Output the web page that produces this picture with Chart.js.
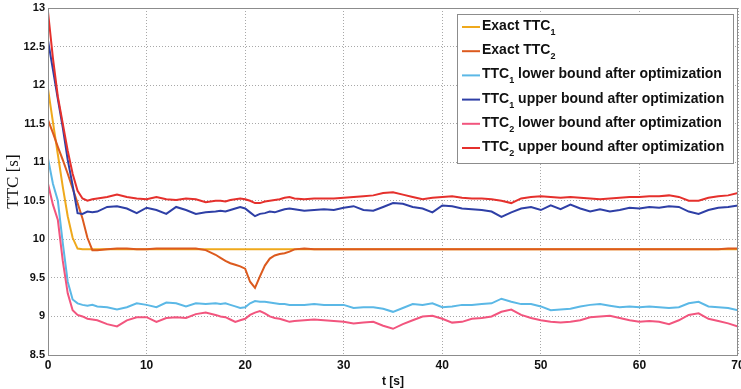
<!DOCTYPE html>
<html>
<head>
<meta charset="utf-8">
<script src="https://cdn.jsdelivr.net/npm/chart.js@4.4.1/dist/chart.umd.min.js"></script>
<style>
  body { margin: 0; background: #fff; }
  #wrap { width: 741px; height: 389px; }
</style>
</head>
<body>
<div id="wrap"><canvas id="grafico" width="741" height="389"></canvas></div>
<script>
// time axis [s]
const t = [0, 0.5, 1, 1.5, 2, 2.5, 3, 3.5, 4, 4.5, 5,
  6, 7, 8, 9, 10, 11, 12, 13, 14, 15, 16,
  17, 17.5, 18, 18.5, 19, 19.5, 20, 20.5, 21, 21.5, 22, 22.5, 23, 23.5, 24, 24.5, 25,
  26, 27, 28, 29, 30, 31, 32, 33, 34, 35, 36, 37, 38, 39, 40, 41, 42, 43, 44, 45,
  46, 47, 48, 49, 50, 51, 52, 53, 54, 55, 56, 57, 58, 59, 60, 61, 62, 63, 64, 65,
  66, 67, 68, 69, 70];

const exactTTC1 = [11.95, 11.52, 11.1, 10.68, 10.3, 10.02, 9.88, 9.87, 9.87, 9.87, 9.87,
  9.87, 9.87, 9.87, 9.87, 9.87, 9.87, 9.87, 9.87, 9.87, 9.87, 9.87,
  9.87, 9.87, 9.87, 9.87, 9.87, 9.87, 9.87, 9.87, 9.87, 9.87, 9.87, 9.87, 9.87, 9.87, 9.87, 9.87, 9.87,
  9.87, 9.87, 9.87, 9.87, 9.87, 9.87, 9.87, 9.87, 9.87, 9.87, 9.87, 9.87, 9.87, 9.87, 9.87, 9.87, 9.87, 9.87, 9.87, 9.87,
  9.87, 9.87, 9.87, 9.87, 9.87, 9.87, 9.87, 9.87, 9.87, 9.87, 9.87, 9.87, 9.87, 9.87, 9.87, 9.87, 9.87, 9.87, 9.87, 9.87,
  9.87, 9.87, 9.87, 9.87, 9.87];

const exactTTC2 = [11.55, 11.38, 11.2, 11.03, 10.85, 10.66, 10.47, 10.27, 10.02, 9.86, 9.86,
  9.87, 9.88, 9.88, 9.87, 9.87, 9.88, 9.88, 9.88, 9.88, 9.88, 9.86,
  9.8, 9.76, 9.72, 9.69, 9.67, 9.65, 9.62, 9.45, 9.37, 9.52, 9.66, 9.75, 9.79, 9.81, 9.82, 9.84, 9.87,
  9.88, 9.87, 9.87, 9.87, 9.87, 9.87, 9.87, 9.87, 9.87, 9.87, 9.87, 9.87, 9.87, 9.87, 9.87, 9.87, 9.87, 9.87, 9.87, 9.87,
  9.87, 9.87, 9.87, 9.87, 9.87, 9.87, 9.87, 9.87, 9.87, 9.87, 9.87, 9.87, 9.87, 9.87, 9.87, 9.87, 9.87, 9.87, 9.87, 9.87,
  9.87, 9.87, 9.87, 9.88, 9.88];

const ttc1Lower = [11.05, 10.72, 10.5, 9.95, 9.45, 9.22, 9.17, 9.15, 9.14, 9.15, 9.13,
  9.12, 9.09, 9.12, 9.17, 9.15, 9.12, 9.18, 9.17, 9.13, 9.17, 9.16,
  9.17, 9.16, 9.17, 9.15, 9.13, 9.11, 9.12, 9.17, 9.2, 9.19, 9.19, 9.18, 9.17, 9.16, 9.16, 9.15, 9.15,
  9.15, 9.16, 9.15, 9.15, 9.15, 9.11, 9.12, 9.12, 9.1, 9.06, 9.11, 9.16, 9.15, 9.17, 9.12, 9.13, 9.15, 9.15, 9.16, 9.17,
  9.23, 9.19, 9.16, 9.16, 9.13, 9.08, 9.09, 9.1, 9.13, 9.15, 9.16, 9.14, 9.12, 9.13, 9.12, 9.13, 9.12, 9.11, 9.12, 9.17,
  9.19, 9.13, 9.12, 9.11, 9.08];

const ttc1Upper = [12.58, 12.2, 11.82, 11.45, 11.03, 10.7, 10.34, 10.33, 10.36, 10.35, 10.36,
  10.42, 10.43, 10.4, 10.34, 10.41, 10.38, 10.33, 10.42, 10.38, 10.33, 10.35,
  10.36, 10.37, 10.36, 10.38, 10.4, 10.42, 10.4, 10.35, 10.3, 10.33, 10.34, 10.36, 10.35, 10.37, 10.39, 10.4, 10.39,
  10.37, 10.38, 10.39, 10.38, 10.41, 10.43, 10.38, 10.37, 10.42, 10.47, 10.46, 10.42, 10.4, 10.35, 10.44, 10.43, 10.4, 10.39, 10.38, 10.36,
  10.29, 10.35, 10.4, 10.42, 10.38, 10.44, 10.39, 10.45, 10.4, 10.36, 10.39, 10.36, 10.38, 10.41, 10.4, 10.42, 10.41, 10.43, 10.42, 10.36,
  10.33, 10.38, 10.41, 10.42, 10.44];

const ttc2Lower = [10.72, 10.45, 10.25, 9.72, 9.3, 9.08, 9.02, 9.0, 8.97, 8.96, 8.95,
  8.9, 8.87, 8.95, 8.99, 8.99, 8.93, 8.98, 8.99, 8.98, 9.03, 9.05,
  9.02, 9.0, 8.99, 8.96, 8.93, 8.95, 8.97, 9.02, 9.05, 9.07, 9.04, 9.0, 8.98, 8.97, 8.95, 8.93, 8.94,
  8.95, 8.96, 8.95, 8.94, 8.93, 8.91, 8.92, 8.93, 8.88, 8.84, 8.9, 8.95, 9.0, 9.01, 8.97, 8.92, 8.93, 8.97, 8.98, 9.0,
  9.06, 9.09, 9.02, 8.98, 8.95, 8.93, 8.92, 8.93, 8.95, 8.99, 9.0, 9.01, 8.98, 8.95, 8.93, 8.94, 8.93, 8.9, 8.95, 9.02,
  9.04, 8.97, 8.94, 8.91, 8.87];

const ttc2Upper = [12.95, 12.35, 11.85, 11.5, 11.15, 10.85, 10.63, 10.53, 10.5, 10.52, 10.53,
  10.55, 10.58, 10.55, 10.53, 10.52, 10.55, 10.52, 10.51, 10.53, 10.52, 10.48,
  10.5, 10.5, 10.49, 10.51, 10.52, 10.53, 10.52, 10.5, 10.47, 10.47, 10.49, 10.5, 10.51, 10.52, 10.54, 10.55, 10.53,
  10.52, 10.53, 10.53, 10.53, 10.54, 10.55, 10.56, 10.57, 10.6, 10.61, 10.58, 10.55, 10.52, 10.54, 10.55, 10.56, 10.54, 10.53, 10.53, 10.52,
  10.5, 10.47, 10.53, 10.55, 10.56, 10.55, 10.54, 10.55, 10.54, 10.53, 10.52, 10.53, 10.54, 10.55, 10.55, 10.56, 10.56, 10.57, 10.55, 10.5,
  10.5, 10.54, 10.56, 10.57, 10.6];

// legend names, "_n" is drawn as subscript
const names = ['Exact TTC_1', 'Exact TTC_2',
  'TTC_1 lower bound after optimization', 'TTC_1 upper bound after optimization',
  'TTC_2 lower bound after optimization', 'TTC_2 upper bound after optimization'];
const colors = ['#EFA91C', '#DC5A1E', '#5BB8E6', '#2E3FA6', '#F2557E', '#E5302C'];
const series = [exactTTC1, exactTTC2, ttc1Lower, ttc1Upper, ttc2Lower, ttc2Upper];

const boxFrame = {
  id: 'boxFrame',
  afterDatasetsDraw(chart) {
    const { ctx, chartArea: a } = chart;
    ctx.save();
    ctx.strokeStyle = '#8c8c8c';
    ctx.lineWidth = 1;
    ctx.strokeRect(a.left + 0.5, a.top + 0.5, a.right - a.left - 1, a.bottom - a.top);
    ctx.restore();
  }
};

const boxLegend = {
  id: 'boxLegend',
  afterDraw(chart) {
    const ctx = chart.ctx;
    ctx.save();
    ctx.fillStyle = '#fff';
    ctx.fillRect(457, 14, 276, 149);
    ctx.strokeStyle = '#8c8c8c';
    ctx.lineWidth = 1;
    ctx.strokeRect(457.5, 14.5, 276, 149);
    names.forEach((name, i) => {
      const base = 30 + i * 24.2;
      ctx.strokeStyle = colors[i];
      ctx.lineWidth = 2;
      ctx.beginPath();
      ctx.moveTo(462, base - 3);
      ctx.lineTo(480, base - 3);
      ctx.stroke();
      ctx.fillStyle = '#111';
      ctx.textBaseline = 'alphabetic';
      let x = 482;
      name.split(/(_\d)/).forEach(part => {
        if (!part) return;
        if (part[0] === '_') {
          ctx.font = 'bold 9px "Liberation Sans", Arial, sans-serif';
          ctx.fillText(part.slice(1), x, base + 5);
          x += ctx.measureText(part.slice(1)).width;
        } else {
          ctx.font = 'bold 14px "Liberation Sans", Arial, sans-serif';
          ctx.fillText(part, x, base);
          x += ctx.measureText(part).width;
        }
      });
    });
    ctx.restore();
  }
};

const ctx = document.getElementById('grafico').getContext('2d');

new Chart(ctx, {
  type: 'line',
  data: {
    datasets: series.map((vals, i) => ({
      label: names[i].replace('_1', '\u2081').replace('_2', '\u2082'),
      data: t.map((x, k) => ({ x: x, y: vals[k] })),
      borderColor: colors[i],
      backgroundColor: colors[i],
      borderWidth: 2,
      pointRadius: 0,
      tension: 0,
      order: series.length - i
    }))
  },
  options: {
    responsive: false,
    animation: false,
    layout: { padding: { top: 8, right: 3, left: 0, bottom: 0 } },
    plugins: {
      legend: { display: false },
      tooltip: { enabled: false }
    },
    scales: {
      x: {
        type: 'linear',
        min: 0,
        max: 70,
        border: { display: false, dash: [1, 2] },
        grid: { color: '#a8a8a8', drawTicks: false },
        ticks: {
          stepSize: 10,
          padding: 3,
          maxRotation: 0,
          color: '#111',
          font: { family: '"Liberation Sans", Arial, sans-serif', size: 12, weight: 'bold' }
        },
        title: {
          display: true,
          text: 't [s]',
          color: '#111',
          padding: { top: 0, bottom: 0 },
          font: { family: '"Liberation Sans", Arial, sans-serif', size: 12, weight: 'bold' }
        },
        afterFit(scale) {
          scale.height = 34;
          scale.paddingLeft = 0;
          scale.paddingRight = 0;
        }
      },
      y: {
        min: 8.5,
        max: 13,
        border: { display: false, dash: [1, 2] },
        grid: { color: '#a8a8a8', drawTicks: false },
        ticks: {
          stepSize: 0.5,
          padding: 3,
          color: '#111',
          font: { family: '"Liberation Sans", Arial, sans-serif', size: 11, weight: 'bold' },
          callback: v => String(Number(v.toFixed(1)))
        },
        title: {
          display: true,
          text: 'TTC [s]',
          color: '#111',
          padding: { top: 3, bottom: 0 },
          font: { family: '"Liberation Serif", "Times New Roman", serif', size: 17 }
        },
        afterFit(scale) {
          scale.width = 48;
          scale.paddingTop = 0;
          scale.paddingBottom = 0;
        }
      }
    }
  },
  plugins: [boxFrame, boxLegend]
});
</script>
</body>
</html>
